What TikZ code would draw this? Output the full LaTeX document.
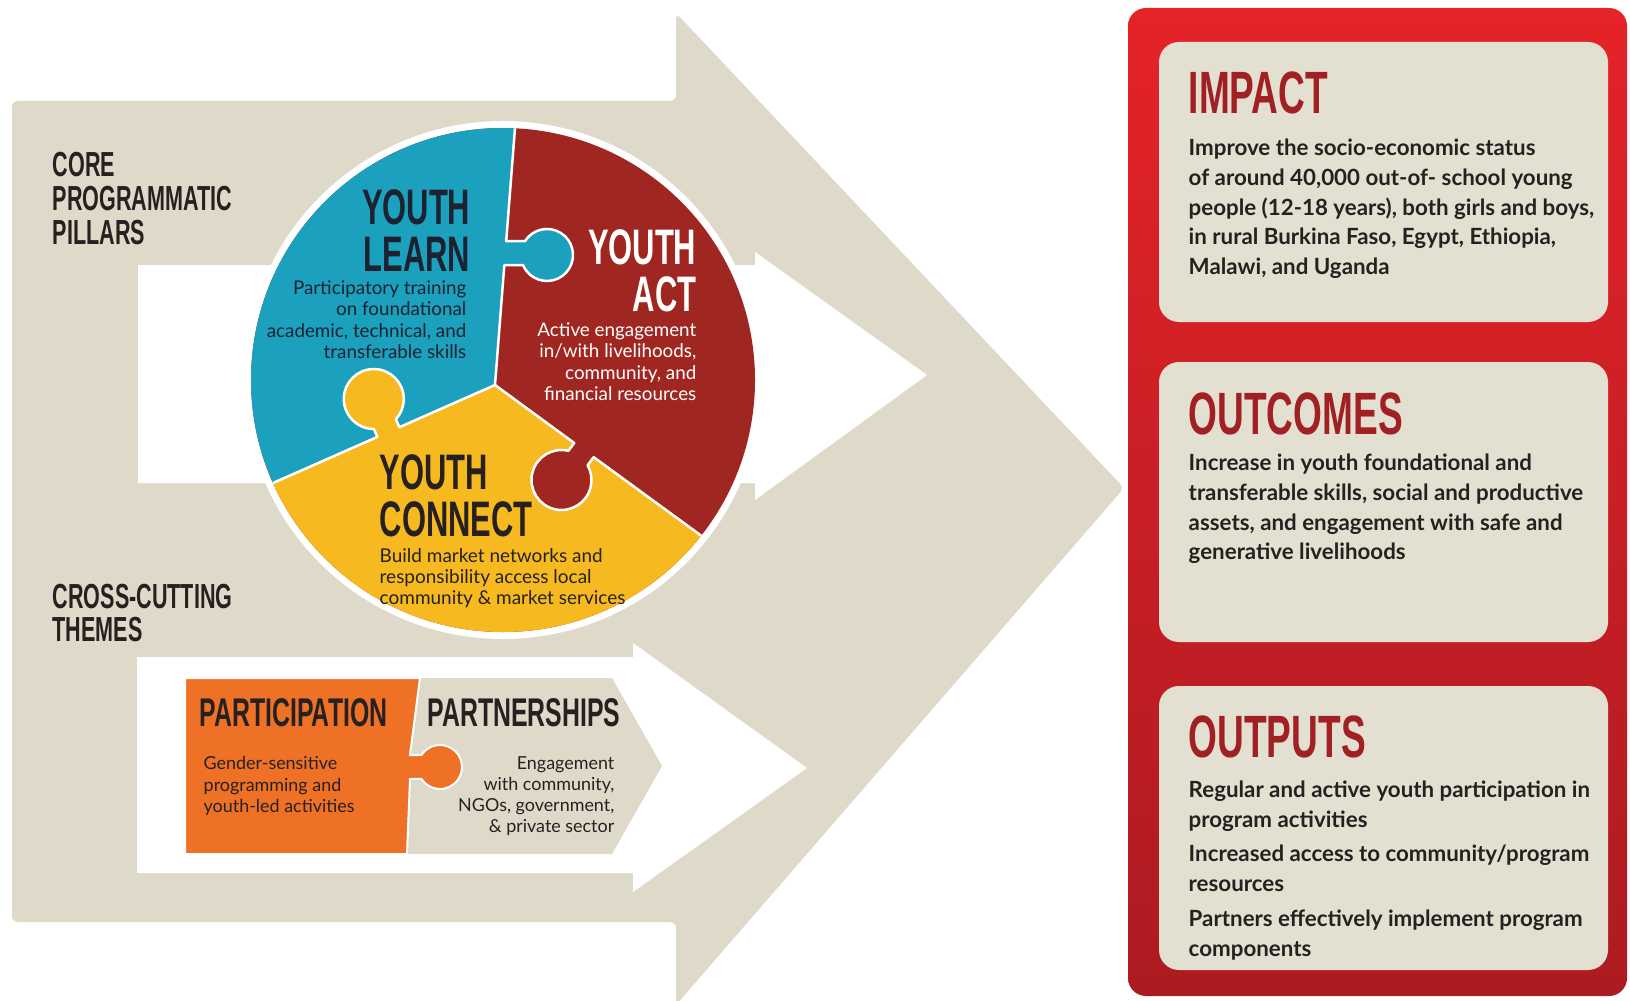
\documentclass[tikz,border=0pt]{standalone}
\usepackage{fontspec}
\setmainfont{Lato}
\newfontfamily\headfont[FakeStretch=0.62]{Liberation Sans}
\usepackage{tikz}
\usetikzlibrary{positioning,calc}
\usepackage{xcolor}

\definecolor{sand}{RGB}{222,217,201}
\definecolor{boxsand}{RGB}{227,223,209}
\definecolor{learnblue}{RGB}{27,161,190}
\definecolor{actred}{RGB}{160,39,33}
\definecolor{connyellow}{RGB}{246,186,32}
\definecolor{partorange}{RGB}{238,113,38}
\definecolor{paneltop}{RGB}{229,35,41}
\definecolor{panelbot}{RGB}{172,27,33}
\definecolor{titlered}{RGB}{160,32,36}
\definecolor{ink}{RGB}{38,33,32}
\definecolor{navy}{RGB}{28,34,48}

\begin{document}
\begin{tikzpicture}[x=0.1mm, y=0.1mm,
    pillar/.style={font=\headfont\bfseries\fontsize{9.9}{9.6}\selectfont, text=ink, align=left, anchor=north west, inner sep=0pt},
    piecetitle/.style={font=\headfont\bfseries\fontsize{14.2}{13.3}\selectfont, inner sep=0pt},
    piecetext/.style={font=\fontsize{5.35}{6.1}\selectfont, inner sep=0pt},
    themetitle/.style={font=\headfont\bfseries\fontsize{11.4}{11.4}\selectfont, text=ink, anchor=north, inner sep=0pt},
    themetext/.style={font=\fontsize{5.1}{6}\selectfont, text=ink, inner sep=0pt},
    boxtitle/.style={font=\headfont\bfseries\fontsize{17}{17}\selectfont, text=titlered, anchor=north west, inner sep=0pt},
    boxtext/.style={font=\bfseries\fontsize{6.35}{8.5}\selectfont, text=ink, align=left, anchor=north west, inner sep=0pt},
    seam/.style={draw=white, line width=0.25mm, line join=round}
]

    \useasboundingbox (0,0) rectangle (1630,1000);
    \clip (0,0) rectangle (1630,1000);

    % Big sand arrow with the two white arrows cut in
    \fill[sand, rounded corners=0.6mm] (12,78) -- (12,899) -- (676,899) -- (676,987)
        -- (1124,512) -- (676,-5) -- (676,78) -- cycle;
    \fill[white] (138,517) -- (138,735) -- (755,735) -- (755,748) -- (927,625)
        -- (755,500) -- (755,517) -- cycle;
    \fill[white] (137,127) -- (137,343) -- (633,343) -- (633,357) -- (807,232)
        -- (633,108) -- (633,127) -- cycle;

    % Puzzle circle (core pillars)
    \coordinate (C) at (503,620);
    \coordinate (T) at (515,872);
    \coordinate (J) at (495,615);
    \coordinate (L) at (273,517);
    \coordinate (E) at (703,463);
    \fill[white] (C) circle[radius=259];
    \begin{scope}
        \clip (C) circle[radius=252];
        \fill[actred] (C) circle[radius=260];
        \fill[learnblue] (T) -- (506.2,758.8) -- (524.95,758.8)
            arc[start angle=148, end angle=-157, radius=26] -- (504.3,734.84) -- (J)
            -- (218,493) -- (150,493) -- (150,950) -- (521,950) -- cycle;
        \fill[connyellow] (218,493) -- (L) -- (377.4,563.1) -- (373.9,571)
            arc[start angle=270.2, end angle=-42.6, radius=30] -- (399.4,572.8) -- (J)
            -- (574.2,557) -- (568.45,549.2)
            arc[start angle=76.6, end angle=389.4, radius=30] -- (593.6,542.9) -- (E)
            -- (751,428) -- (790,300) -- (200,300) -- cycle;
        \draw[seam] (521,950) -- (T) -- (506.2,758.8) -- (524.95,758.8)
            arc[start angle=148, end angle=-157, radius=26] -- (504.3,734.84) -- (J);
        \draw[seam] (218,493) -- (L) -- (377.4,563.1) -- (373.9,571)
            arc[start angle=270.2, end angle=-42.6, radius=30] -- (399.4,572.8) -- (J)
            -- (574.2,557) -- (568.45,549.2)
            arc[start angle=76.6, end angle=389.4, radius=30] -- (593.6,542.9) -- (E)
            -- (751,428);
    \end{scope}

    \node[piecetitle, text=navy, align=right, anchor=north east] (learnT) at (471,811) {YOUTH\\LEARN};
    \node[piecetext, text=navy, align=right, anchor=north east] (learnD) at (467,720)
        {Participatory training\\on foundational\\academic, technical, and\\transferable skills};
    \node[piecetitle, text=white, align=right, anchor=north east] (actT) at (697,771) {YOUTH\\ACT};
    \node[piecetext, text=white, align=right, anchor=north east] (actD) at (697,678)
        {Active engagement\\in/with livelihoods,\\community, and\\financial resources};
    \node[piecetitle, text=ink, align=left, anchor=north west] (connT) at (379,546) {YOUTH\\CONNECT};
    \node[piecetext, text=ink, align=left, anchor=north west,
          font=\fontsize{5.4}{5.95}\selectfont] (connD) at (379,452)
        {Build market networks and\\responsibility access local\\community \& market services};

    % Left labels
    \node[pillar] (core) at (52,848) {CORE\\PROGRAMMATIC\\PILLARS};
    \node[pillar] (cross) at (52,417) {CROSS-CUTTING\\THEMES};

    % Cross-cutting puzzle (bottom)
    \fill[sand] (400,146) -- (400,322) -- (612,322) -- (662,234) -- (612,146) -- cycle;
    \filldraw[partorange, draw=white, line width=0.2mm] (185,146) -- (185,322) -- (420,322)
        -- (410,245) -- (421.5,245) arc[start angle=147, end angle=-147, radius=22]
        -- (410,221) -- (407,146) -- cycle;
    \node[themetitle, anchor=north west] (partic) at (199,302) {PARTICIPATION};
    \node[themetitle, anchor=north east] (partn) at (621,302) {PARTNERSHIPS};
    \node[themetext, align=left, anchor=north west] (particD) at (203,244)
        {Gender-sensitive\\programming and\\youth-led activities};
    \node[themetext, align=right, anchor=north east] (partnD) at (615,244)
        {Engagement\\with community,\\NGOs, government,\\\& private sector};

    % Results panel (right)
    \shade[top color=paneltop, bottom color=panelbot, rounded corners=1.8mm] (1128,4) rectangle (1627,992);
    \fill[boxsand, rounded corners=2mm] (1159,678) rectangle (1608,958);
    \fill[boxsand, rounded corners=2mm] (1159,358) rectangle (1608,638);
    \fill[boxsand, rounded corners=2mm] (1159,30) rectangle (1608,314);

    \node[boxtitle] (impT) at (1188,929) {IMPACT};
    \node[boxtext] (impD) at (1188,862)
        {Improve the socio-economic status\\of around 40,000 out-of- school young\\people (12-18 years), both girls and boys,\\in rural Burkina Faso, Egypt, Ethiopia,\\Malawi, and Uganda};
    \node[boxtitle] (outcT) at (1188,608) {OUTCOMES};
    \node[boxtext] (outcD) at (1188,547)
        {Increase in youth foundational and\\transferable skills, social and productive\\assets, and engagement with safe and\\generative livelihoods};
    \node[boxtitle] (outpT) at (1188,285) {OUTPUTS};
    \node[boxtext] (outpD) at (1188,220)
        {Regular and active youth participation in\\program activities\\[1.4pt]Increased access to community/program\\resources\\[1.4pt]Partners effectively implement program\\components};

\end{tikzpicture}
\end{document}
